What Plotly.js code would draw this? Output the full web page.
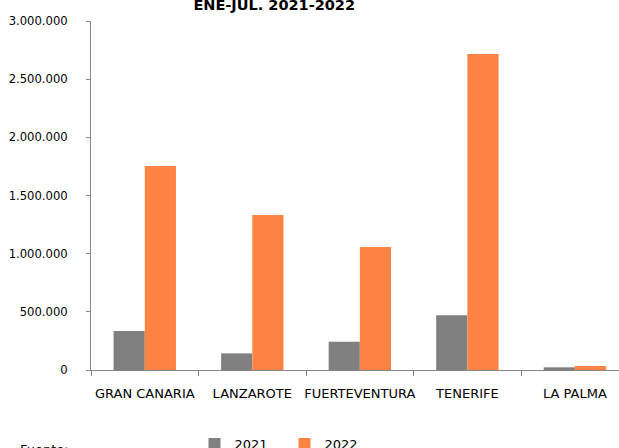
<!DOCTYPE html>
<html><head><meta charset="utf-8">
<script src="https://cdn.plot.ly/plotly-3.0.1.min.js"></script>
<style>html,body{margin:0;padding:0;background:#fff;}#chart{width:619px;height:448px;}</style>
</head><body><div id="chart"></div>
<script>
const categories = ["GRAN CANARIA", "LANZAROTE", "FUERTEVENTURA", "TENERIFE", "LA PALMA"];
const values2021 = [335000, 143000, 243000, 470000, 23000];
const values2022 = [1754000, 1332000, 1057000, 2716000, 34000];
const yTickVals = [0, 500000, 1000000, 1500000, 2000000, 2500000, 3000000];
const yTickText = ["0", "500.000", "1.000.000", "1.500.000", "2.000.000", "2.500.000", "3.000.000"];

const font = "DejaVu Sans, Verdana, sans-serif";
const data = [
  {type: "bar", name: "2021", x: categories, y: values2021, marker: {color: "#808080"}},
  {type: "bar", name: "2022", x: categories, y: values2022, marker: {color: "#FF8444"}}
];
const layout = {
  width: 619, height: 448,
  margin: {l: 91, r: 0, t: 21, b: 78, autoexpand: false},
  paper_bgcolor: "#fff", plot_bgcolor: "#fff",
  font: {family: font, size: 12, color: "#000"},
  title: {text: "<b>ENE-JUL. 2021-2022</b>", font: {family: font, size: 14.5, color: "#000"},
          x: 0.443, xref: "container", xanchor: "center", y: 0.99, yref: "container", yanchor: "middle"},
  barmode: "group", bargap: 0.42, bargroupgap: 0,
  xaxis: {range: [-0.5, 4.41], showline: true, linecolor: "#868686", linewidth: 1,
          ticks: "outside", tickson: "boundaries", ticklen: 5, tickcolor: "#868686", tickangle: 0,
          tickfont: {family: font, size: 13}, ticklabelstandoff: 11, showgrid: false, fixedrange: true, automargin: false},
  yaxis: {range: [0, 3000000], showline: true, linecolor: "#868686", linewidth: 1,
          ticks: "outside", ticklen: 4, tickcolor: "#868686", tickvals: yTickVals, ticktext: yTickText,
          tickfont: {family: font, size: 11.6}, ticklabelstandoff: 16, showgrid: false, zeroline: false, fixedrange: true, automargin: false},
  showlegend: true,
  legend: {orientation: "h", x: 0.196, xanchor: "left", y: -0.212, yanchor: "middle",
           font: {family: font, size: 13}, itemwidth: 30, entrywidth: 45, entrywidthmode: "pixels"},
  annotations: [{text: "Fuente:", xref: "paper", yref: "paper", x: -0.138, xanchor: "left",
                 y: -0.2, yanchor: "top", showarrow: false, font: {family: font, size: 13}}]
};
Plotly.newPlot("chart", data, layout, {displayModeBar: false, staticPlot: true});
</script></body></html>
